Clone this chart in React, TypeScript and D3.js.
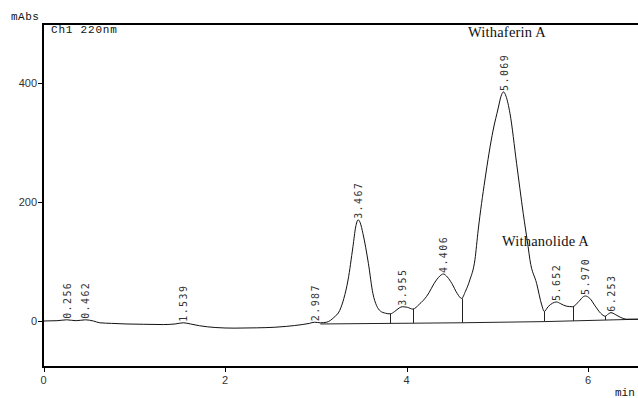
import React, { useEffect, useRef } from 'react';
import * as d3 from 'd3';

// chromatogram trace (minutes, mAbs)
const traceTime = [
  0, 0.15, 0.256, 0.36, 0.462, 0.55, 0.62, 0.75, 0.91, 1.1, 1.32, 1.45, 1.539, 1.62, 1.72, 1.9, 2.1,
  2.35, 2.55, 2.68, 2.85, 2.93, 2.987, 3.05, 3.12, 3.2, 3.265, 3.31, 3.356, 3.41, 3.44, 3.467, 3.49,
  3.52, 3.58, 3.63, 3.67, 3.71, 3.77, 3.82, 3.87, 3.92, 3.955, 4.01, 4.07, 4.14, 4.22, 4.33, 4.37,
  4.406, 4.45, 4.5, 4.56, 4.607, 4.65, 4.698, 4.754, 4.79, 4.864, 4.955, 5.011, 5.04, 5.069, 5.096,
  5.14, 5.213, 5.286, 5.34, 5.36, 5.434, 5.49, 5.518, 5.56, 5.61, 5.652, 5.7, 5.76, 5.83, 5.9, 5.95,
  5.97, 6.02, 6.08, 6.14, 6.19, 6.225, 6.253, 6.3, 6.36, 6.43, 6.5, 6.56,
];
const traceAbs = [
  0, 0.5, 2, 0.5, 2, 0, -3, -4, -5, -5.5, -6, -5, -3, -5, -8, -11, -12,
  -11.5, -10.5, -9, -6, -4, -2, -3, -2, 6, 18, 38, 69, 125, 158, 170, 165,
  147, 97, 46, 26, 17, 13, 12, 16, 22, 24, 23, 20, 28, 41, 69, 76,
  79, 74, 63, 46, 38, 50, 69, 103, 153, 237, 321, 358, 377, 385, 378,
  349, 265, 181, 125, 103, 63, 27, 16, 24, 30, 32, 29, 25, 24, 33, 41,
  42, 38, 25, 13, 8, 12, 14, 11, 6, 3, 3, 3,
];

// integrated peaks: retention times and apex heights
const peakTimes = ['0.256', '0.462', '1.539', '2.987', '3.467', '3.955', '4.406', '5.069', '5.652', '5.970', '6.253'];
const peakAbs = [2, 2, -3, -2, 170, 24, 79, 385, 32, 42, 14];

// drop lines between peaks and integration baseline
const dropTimes = [3.82, 4.07, 4.607, 5.518, 5.83, 6.19];
const dropAbs = [12, 20, 38, 16, 24, 8];
const baseTime = [3.05, 4.6, 5.52, 6.56];
const baseAbs = [-5, -3, -1, 3];

const xTicks = [0, 2, 4, 6];
const yTicks = [0, 200, 400];

const App = () => {
  const svgRef = useRef<SVGSVGElement>(null);

  useEffect(() => {
    const width = 638;
    const height = 398;
    const left = 43;
    const top = 24;
    const bottom = 367;

    const x = d3.scaleLinear().domain([0, 6]).range([43.5, 588]);
    const y = d3.scaleLinear().domain([0, 400]).range([321, 83]);

    const svg = d3.select(svgRef.current);
    svg.selectAll('*').remove();
    svg.attr('width', width).attr('height', height);

    const baseInterp = d3.scaleLinear().domain(baseTime).range(baseAbs);

    // trace
    const trace = traceTime.map((t, i) => [t, traceAbs[i]] as [number, number]);
    const line = d3.line<[number, number]>()
      .x((d) => x(d[0]))
      .y((d) => y(d[1]))
      .curve(d3.curveMonotoneX);

    const clip = svg.append('clipPath').attr('id', 'plot-clip');
    clip.append('rect').attr('x', left).attr('y', top).attr('width', width - left).attr('height', bottom - top);

    const plot = svg.append('g').attr('clip-path', 'url(#plot-clip)');

    // integration baseline
    plot.append('path')
      .attr('d', line.curve(d3.curveLinear)(baseTime.map((t, i) => [t, baseAbs[i]] as [number, number])))
      .attr('fill', 'none')
      .attr('stroke', '#222')
      .attr('stroke-width', 1);

    plot.selectAll('.drop')
      .data(dropTimes)
      .enter()
      .append('line')
      .attr('x1', (t) => Math.round(x(t)) + 0.5)
      .attr('x2', (t) => Math.round(x(t)) + 0.5)
      .attr('y1', (t, i) => y(dropAbs[i]))
      .attr('y2', (t) => y(baseInterp(t)))
      .attr('stroke', '#222')
      .attr('stroke-width', 1);

    plot.append('path')
      .attr('d', line.curve(d3.curveMonotoneX)(trace))
      .attr('fill', 'none')
      .attr('stroke', '#111')
      .attr('stroke-width', 1);

    // peak retention time labels
    plot.selectAll('.rt')
      .data(peakTimes)
      .enter()
      .append('text')
      .attr('transform', (d, i) => `translate(${x(+d) + 4},${y(peakAbs[i]) - 1}) rotate(-90)`)
      .attr('font-family', '"DejaVu Sans Mono", monospace')
      .attr('font-size', 10)
      .attr('letter-spacing', 1.4)
      .attr('fill', '#333')
      .text((d) => d);

    // frame
    svg.append('line').attr('x1', left).attr('x2', left).attr('y1', top - 1).attr('y2', bottom + 1)
      .attr('stroke', '#000').attr('stroke-width', 2);
    svg.append('line').attr('x1', left).attr('x2', width).attr('y1', top).attr('y2', top)
      .attr('stroke', '#000').attr('stroke-width', 2);
    svg.append('line').attr('x1', left).attr('x2', width).attr('y1', bottom).attr('y2', bottom)
      .attr('stroke', '#000').attr('stroke-width', 2);

    // y ticks
    const yAxis = svg.append('g');
    yAxis.selectAll('line')
      .data(yTicks)
      .enter()
      .append('line')
      .attr('x1', left - 5).attr('x2', left)
      .attr('y1', (d) => Math.round(y(d)) + 0.5).attr('y2', (d) => Math.round(y(d)) + 0.5)
      .attr('stroke', '#000');
    yAxis.selectAll('text')
      .data(yTicks)
      .enter()
      .append('text')
      .attr('x', left - 6)
      .attr('y', (d) => y(d) + 4)
      .attr('text-anchor', 'end')
      .attr('font-family', '"Liberation Sans", Arial, sans-serif')
      .attr('font-size', 11)
      .attr('fill', '#333')
      .text((d) => d);

    // x ticks
    const xAxis = svg.append('g');
    xAxis.selectAll('line')
      .data(xTicks)
      .enter()
      .append('line')
      .attr('x1', (d) => Math.round(x(d)) + 0.5).attr('x2', (d) => Math.round(x(d)) + 0.5)
      .attr('y1', bottom).attr('y2', bottom + 5)
      .attr('stroke', '#000');
    xAxis.selectAll('text')
      .data(xTicks)
      .enter()
      .append('text')
      .attr('x', (d) => x(d))
      .attr('y', bottom + 17)
      .attr('text-anchor', 'middle')
      .attr('font-family', '"Liberation Sans", Arial, sans-serif')
      .attr('font-size', 11)
      .attr('fill', '#333')
      .text((d) => d);

    const mono = '"Liberation Mono", "Courier New", monospace';
    svg.append('text').attr('x', 11).attr('y', 20).attr('font-family', mono).attr('font-size', 11)
      .attr('letter-spacing', 0.5).attr('fill', '#111').text('mAbs');
    svg.append('text').attr('x', 51).attr('y', 33).attr('font-family', mono).attr('font-size', 11)
      .attr('letter-spacing', 0.8).attr('fill', '#111').text('Ch1 220nm');
    svg.append('text').attr('x', 615).attr('y', 396).attr('font-family', mono).attr('font-size', 11)
      .attr('fill', '#111').text('min');

    const serif = '"Liberation Serif", "Times New Roman", serif';
    svg.append('text').attr('x', 468).attr('y', 37).attr('font-family', serif).attr('font-size', 14.5)
      .attr('letter-spacing', 0.2).attr('fill', '#111').text('Withaferin A');
    svg.append('text').attr('x', 502).attr('y', 246).attr('font-family', serif).attr('font-size', 14.5)
      .attr('letter-spacing', 0.2).attr('fill', '#111').text('Withanolide A');
  }, []);

  return (
    <svg ref={svgRef} style={{ position: 'absolute', left: 0, top: 0, background: '#fff' }}></svg>
  );
};

export default App;
